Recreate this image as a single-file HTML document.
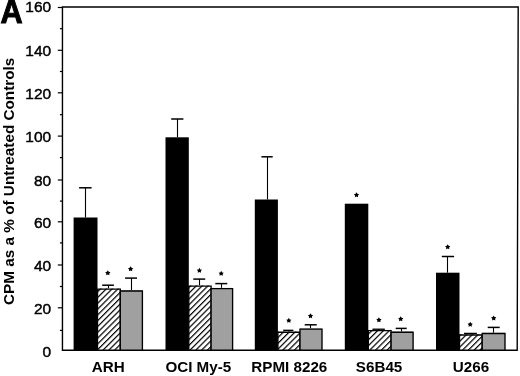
<!DOCTYPE html>
<html><head><meta charset="utf-8"><style>
html,body{margin:0;padding:0;background:#fff;}
body{width:520px;height:376px;overflow:hidden;}
svg{display:block;will-change:transform;}
text{font-family:"Liberation Sans",sans-serif;fill:#000;}
.tk{font-size:15.5px;stroke:#000;stroke-width:0.45px;}
.xl{font-size:15.2px;font-weight:bold;}
.yl{font-size:15.3px;font-weight:bold;}
.A{font-size:33px;font-weight:bold;stroke:#000;stroke-width:1px;}
</style></head><body>
<svg width="520" height="376" viewBox="0 0 520 376">
<defs><pattern id="h" patternUnits="userSpaceOnUse" width="4.1" height="4.1" patternTransform="rotate(45)"><rect width="4.1" height="4.1" fill="#fff"/><rect x="0" y="0" width="1.2" height="4.1" fill="#000"/></pattern></defs>
<line x1="85.50" y1="187.80" x2="85.50" y2="217.50" stroke="#000" stroke-width="1.1"/>
<line x1="79.10" y1="187.80" x2="91.60" y2="187.80" stroke="#000" stroke-width="1.5"/>
<rect x="73.6" y="217.5" width="23.90" height="132.70" fill="#000"/>
<line x1="108.50" y1="285.20" x2="108.50" y2="288.50" stroke="#000" stroke-width="1.1"/>
<line x1="102.20" y1="285.20" x2="113.90" y2="285.20" stroke="#000" stroke-width="1.5"/>
<rect x="97.50" y="288.50" width="22.80" height="61.70" fill="url(#h)"/>
<path d="M97.50,350.2 V289.18 H120.30 V350.2" fill="none" stroke="#000" stroke-width="1.35"/>
<polygon points="107.80,270.25 108.69,271.78 110.42,272.15 109.24,273.47 109.42,275.22 107.80,274.51 106.18,275.22 106.36,273.47 105.18,272.15 106.91,271.78" fill="#000"/>
<line x1="131.50" y1="278.10" x2="131.50" y2="290.30" stroke="#000" stroke-width="1.1"/>
<line x1="125.10" y1="278.10" x2="137.00" y2="278.10" stroke="#000" stroke-width="1.5"/>
<rect x="120.30" y="290.30" width="22.10" height="59.90" fill="#a0a0a0"/>
<path d="M120.30,350.2 V290.98 H142.40 V350.2" fill="none" stroke="#000" stroke-width="1.35"/>
<polygon points="130.60,266.25 131.49,267.78 133.22,268.15 132.04,269.47 132.22,271.22 130.60,270.51 128.98,271.22 129.16,269.47 127.98,268.15 129.71,267.78" fill="#000"/>
<line x1="177.50" y1="119.00" x2="177.50" y2="137.30" stroke="#000" stroke-width="1.1"/>
<line x1="171.20" y1="119.00" x2="183.40" y2="119.00" stroke="#000" stroke-width="1.5"/>
<rect x="165.5" y="137.3" width="23.30" height="212.90" fill="#000"/>
<line x1="199.50" y1="279.10" x2="199.50" y2="285.50" stroke="#000" stroke-width="1.1"/>
<line x1="193.30" y1="279.10" x2="205.20" y2="279.10" stroke="#000" stroke-width="1.5"/>
<rect x="188.80" y="285.50" width="22.30" height="64.70" fill="url(#h)"/>
<path d="M188.80,350.2 V286.18 H211.10 V350.2" fill="none" stroke="#000" stroke-width="1.35"/>
<polygon points="199.40,267.85 200.29,269.38 202.02,269.75 200.84,271.07 201.02,272.82 199.40,272.11 197.78,272.82 197.96,271.07 196.78,269.75 198.51,269.38" fill="#000"/>
<line x1="221.50" y1="283.60" x2="221.50" y2="287.90" stroke="#000" stroke-width="1.1"/>
<line x1="215.30" y1="283.60" x2="227.30" y2="283.60" stroke="#000" stroke-width="1.5"/>
<rect x="211.10" y="287.90" width="21.50" height="62.30" fill="#a0a0a0"/>
<path d="M211.10,350.2 V288.57 H232.60 V350.2" fill="none" stroke="#000" stroke-width="1.35"/>
<polygon points="221.20,270.85 222.09,272.38 223.82,272.75 222.64,274.07 222.82,275.82 221.20,275.11 219.58,275.82 219.76,274.07 218.58,272.75 220.31,272.38" fill="#000"/>
<line x1="267.50" y1="156.80" x2="267.50" y2="199.50" stroke="#000" stroke-width="1.1"/>
<line x1="261.40" y1="156.80" x2="272.70" y2="156.80" stroke="#000" stroke-width="1.5"/>
<rect x="254.8" y="199.5" width="23.10" height="150.70" fill="#000"/>
<line x1="288.50" y1="330.40" x2="288.50" y2="331.60" stroke="#000" stroke-width="1.1"/>
<line x1="283.20" y1="330.40" x2="293.40" y2="330.40" stroke="#000" stroke-width="1.5"/>
<rect x="277.90" y="331.60" width="22.10" height="18.60" fill="url(#h)"/>
<path d="M277.90,350.2 V332.28 H300.00 V350.2" fill="none" stroke="#000" stroke-width="1.35"/>
<polygon points="288.80,317.85 289.69,319.38 291.42,319.75 290.24,321.07 290.42,322.82 288.80,322.11 287.18,322.82 287.36,321.07 286.18,319.75 287.91,319.38" fill="#000"/>
<line x1="310.50" y1="324.80" x2="310.50" y2="328.40" stroke="#000" stroke-width="1.1"/>
<line x1="304.70" y1="324.80" x2="316.70" y2="324.80" stroke="#000" stroke-width="1.5"/>
<rect x="300.00" y="328.40" width="22.00" height="21.80" fill="#a0a0a0"/>
<path d="M300.00,350.2 V329.07 H322.00 V350.2" fill="none" stroke="#000" stroke-width="1.35"/>
<polygon points="310.50,313.25 311.39,314.78 313.12,315.15 311.94,316.47 312.12,318.22 310.50,317.51 308.88,318.22 309.06,316.47 307.88,315.15 309.61,314.78" fill="#000"/>
<rect x="344.8" y="203.7" width="23.50" height="146.50" fill="#000"/>
<polygon points="356.50,192.25 357.39,193.78 359.12,194.15 357.94,195.47 358.12,197.22 356.50,196.51 354.88,197.22 355.06,195.47 353.88,194.15 355.61,193.78" fill="#000"/>
<line x1="378.50" y1="329.30" x2="378.50" y2="329.90" stroke="#000" stroke-width="1.1"/>
<line x1="372.50" y1="329.30" x2="384.80" y2="329.30" stroke="#000" stroke-width="1.5"/>
<rect x="368.30" y="329.90" width="22.80" height="20.30" fill="url(#h)"/>
<path d="M368.30,350.2 V330.57 H391.10 V350.2" fill="none" stroke="#000" stroke-width="1.35"/>
<polygon points="378.90,317.25 379.79,318.78 381.52,319.15 380.34,320.47 380.52,322.22 378.90,321.51 377.28,322.22 377.46,320.47 376.28,319.15 378.01,318.78" fill="#000"/>
<line x1="401.50" y1="328.40" x2="401.50" y2="331.60" stroke="#000" stroke-width="1.1"/>
<line x1="395.70" y1="328.40" x2="406.70" y2="328.40" stroke="#000" stroke-width="1.5"/>
<rect x="391.10" y="331.60" width="22.00" height="18.60" fill="#a0a0a0"/>
<path d="M391.10,350.2 V332.28 H413.10 V350.2" fill="none" stroke="#000" stroke-width="1.35"/>
<polygon points="400.70,316.25 401.59,317.78 403.32,318.15 402.14,319.47 402.32,321.22 400.70,320.51 399.08,321.22 399.26,319.47 398.08,318.15 399.81,317.78" fill="#000"/>
<line x1="447.50" y1="256.50" x2="447.50" y2="272.70" stroke="#000" stroke-width="1.1"/>
<line x1="441.80" y1="256.50" x2="454.10" y2="256.50" stroke="#000" stroke-width="1.5"/>
<rect x="436" y="272.7" width="23.50" height="77.50" fill="#000"/>
<polygon points="447.70,244.25 448.59,245.78 450.32,246.15 449.14,247.47 449.32,249.22 447.70,248.51 446.08,249.22 446.26,247.47 445.08,246.15 446.81,245.78" fill="#000"/>
<line x1="470.50" y1="333.50" x2="470.50" y2="334.30" stroke="#000" stroke-width="1.1"/>
<line x1="464.00" y1="333.50" x2="476.90" y2="333.50" stroke="#000" stroke-width="1.5"/>
<rect x="459.50" y="334.30" width="22.70" height="15.90" fill="url(#h)"/>
<path d="M459.50,350.2 V334.98 H482.20 V350.2" fill="none" stroke="#000" stroke-width="1.35"/>
<polygon points="470.20,321.75 471.09,323.28 472.82,323.65 471.64,324.97 471.82,326.72 470.20,326.01 468.58,326.72 468.76,324.97 467.58,323.65 469.31,323.28" fill="#000"/>
<line x1="493.50" y1="327.40" x2="493.50" y2="332.80" stroke="#000" stroke-width="1.1"/>
<line x1="487.70" y1="327.40" x2="499.70" y2="327.40" stroke="#000" stroke-width="1.5"/>
<rect x="482.20" y="332.80" width="22.80" height="17.40" fill="#a0a0a0"/>
<path d="M482.20,350.2 V333.48 H505.00 V350.2" fill="none" stroke="#000" stroke-width="1.35"/>
<polygon points="493.70,315.45 494.59,316.98 496.32,317.35 495.14,318.67 495.32,320.42 493.70,319.71 492.08,320.42 492.26,318.67 491.08,317.35 492.81,316.98" fill="#000"/>
<path d="M62.45,7.0 L518.2,7.0 L517.2,350.2 L62.45,350.2 Z" fill="none" stroke="#000" stroke-width="1.4" stroke-linejoin="miter"/>
<text x="51.2" y="356.60" text-anchor="end" class="tk">0</text>
<line x1="59.9" y1="330.40" x2="62.45" y2="330.40" stroke="#000" stroke-width="1.2"/>
<line x1="57.8" y1="307.80" x2="62.45" y2="307.80" stroke="#000" stroke-width="1.2"/>
<text x="51.2" y="313.80" text-anchor="end" class="tk">20</text>
<line x1="59.9" y1="286.50" x2="62.45" y2="286.50" stroke="#000" stroke-width="1.2"/>
<line x1="57.8" y1="265.00" x2="62.45" y2="265.00" stroke="#000" stroke-width="1.2"/>
<text x="51.2" y="270.60" text-anchor="end" class="tk">40</text>
<line x1="59.9" y1="242.90" x2="62.45" y2="242.90" stroke="#000" stroke-width="1.2"/>
<line x1="57.8" y1="221.80" x2="62.45" y2="221.80" stroke="#000" stroke-width="1.2"/>
<text x="51.2" y="227.60" text-anchor="end" class="tk">60</text>
<line x1="59.9" y1="201.10" x2="62.45" y2="201.10" stroke="#000" stroke-width="1.2"/>
<line x1="57.8" y1="180.00" x2="62.45" y2="180.00" stroke="#000" stroke-width="1.2"/>
<text x="51.2" y="186.00" text-anchor="end" class="tk">80</text>
<line x1="59.9" y1="157.60" x2="62.45" y2="157.60" stroke="#000" stroke-width="1.2"/>
<line x1="57.8" y1="136.10" x2="62.45" y2="136.10" stroke="#000" stroke-width="1.2"/>
<text x="51.2" y="142.10" text-anchor="end" class="tk">100</text>
<line x1="59.9" y1="114.70" x2="62.45" y2="114.70" stroke="#000" stroke-width="1.2"/>
<line x1="57.8" y1="92.80" x2="62.45" y2="92.80" stroke="#000" stroke-width="1.2"/>
<text x="51.2" y="98.70" text-anchor="end" class="tk">120</text>
<line x1="59.9" y1="71.50" x2="62.45" y2="71.50" stroke="#000" stroke-width="1.2"/>
<line x1="57.8" y1="50.30" x2="62.45" y2="50.30" stroke="#000" stroke-width="1.2"/>
<text x="51.2" y="55.90" text-anchor="end" class="tk">140</text>
<line x1="59.9" y1="28.70" x2="62.45" y2="28.70" stroke="#000" stroke-width="1.2"/>
<line x1="57.8" y1="7.50" x2="62.45" y2="7.50" stroke="#000" stroke-width="1.2"/>
<text x="51.2" y="12.20" text-anchor="end" class="tk">160</text>
<text x="108.25" y="372.3" text-anchor="middle" class="xl">ARH</text>
<text x="198.3" y="372.3" text-anchor="middle" class="xl">OCI My-5</text>
<text x="289.3" y="372.3" text-anchor="middle" class="xl">RPMI 8226</text>
<text x="379.1" y="372.3" text-anchor="middle" class="xl">S6B45</text>
<text x="471" y="372.3" text-anchor="middle" class="xl">U266</text>
<text transform="translate(13.5,181.3) rotate(-90)" text-anchor="middle" class="yl">CPM as a % of Untreated Controls</text>
<text transform="translate(0.6,22.6) scale(0.93,1)" class="A">A</text>
</svg>
</body></html>
